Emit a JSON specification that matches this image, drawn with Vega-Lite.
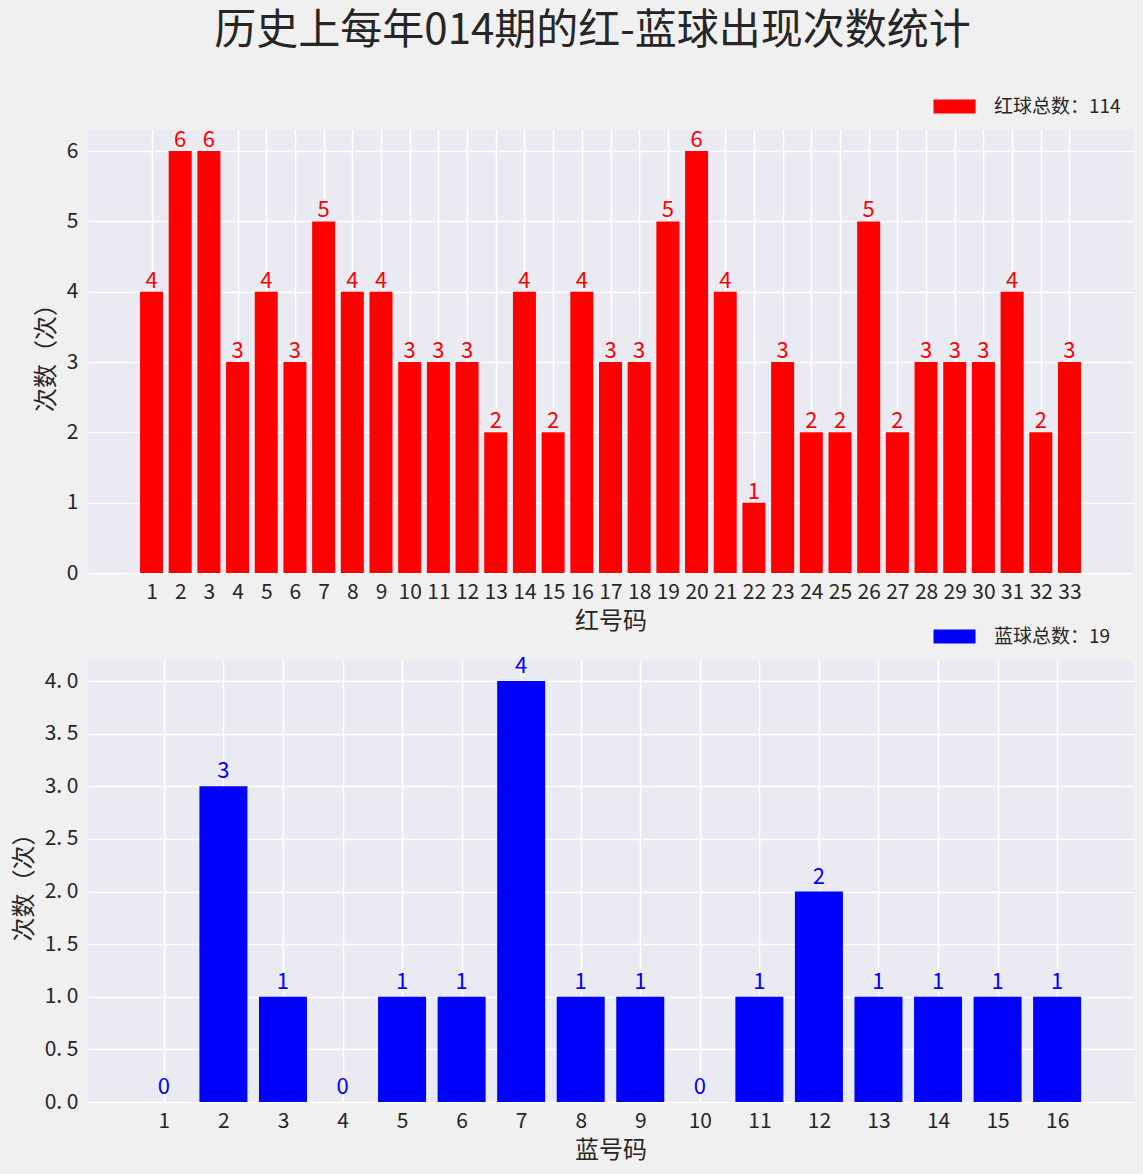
{
  "$schema": "https://vega.github.io/schema/vega-lite/v6.json",
  "background": "#f0f0f0",
  "padding": {"left": 12, "top": 10, "right": 10, "bottom": 17},
  "bounds": "flush",
  "spacing": 87,
  "title": {"text": "历史上每年014期的红-蓝球出现次数统计", "fontSize": 42, "font": "Noto Sans CJK SC", "fontWeight": "normal", "color": "#262626", "anchor": "middle", "offset": 44, "dx": 20},
  "config": {
    "font": "Noto Sans CJK SC",
    "view": {"fill": "#eaeaf2", "stroke": null},
    "axis": {"domain": false, "ticks": false, "gridColor": "#ffffff", "gridWidth": 1.5, "labelFontSize": 21, "labelColor": "#262626", "titleFontSize": 24, "titleFontWeight": "normal", "titleColor": "#262626", "labelFont": "Noto Sans CJK SC", "titleFont": "Noto Sans CJK SC", "labelOverlap": false, "labelBound": false, "labelFlush": false},
    "axisX": {"labelPadding": 8, "titlePadding": 7},
    "axisY": {"labelPadding": 10, "titlePadding": 8},
    "legend": {"orient": "none", "symbolType": "M-3,-1H3V1H-3Z", "symbolSize": 196, "symbolStrokeWidth": 0, "symbolOpacity": 1, "labelFontSize": 19, "labelColor": "#262626", "labelFont": "Noto Sans CJK SC", "labelOffset": 30, "padding": 0, "title": null}
  },
  "resolve": {"scale": {"color": "independent"}, "legend": {"color": "independent"}},
  "vconcat": [
    {
      "width": 1045,
      "height": 443,
      "data": {"values": [
        {"num": 1, "count": 4}, {"num": 2, "count": 6}, {"num": 3, "count": 6}, {"num": 4, "count": 3},
        {"num": 5, "count": 4}, {"num": 6, "count": 3}, {"num": 7, "count": 5}, {"num": 8, "count": 4},
        {"num": 9, "count": 4}, {"num": 10, "count": 3}, {"num": 11, "count": 3}, {"num": 12, "count": 3},
        {"num": 13, "count": 2}, {"num": 14, "count": 4}, {"num": 15, "count": 2}, {"num": 16, "count": 4},
        {"num": 17, "count": 3}, {"num": 18, "count": 3}, {"num": 19, "count": 5}, {"num": 20, "count": 6},
        {"num": 21, "count": 4}, {"num": 22, "count": 1}, {"num": 23, "count": 3}, {"num": 24, "count": 2},
        {"num": 25, "count": 2}, {"num": 26, "count": 5}, {"num": 27, "count": 2}, {"num": 28, "count": 3},
        {"num": 29, "count": 3}, {"num": 30, "count": 3}, {"num": 31, "count": 4}, {"num": 32, "count": 2},
        {"num": 33, "count": 3}
      ]},
      "encoding": {
        "x": {"field": "num", "type": "quantitative", "scale": {"domain": [-1.04, 35.04], "nice": false, "zero": false},
              "axis": {"values": [1,2,3,4,5,6,7,8,9,10,11,12,13,14,15,16,17,18,19,20,21,22,23,24,25,26,27,28,29,30,31,32,33], "title": "红号码"}},
        "y": {"field": "count", "type": "quantitative", "scale": {"domain": [0, 6.3], "nice": false},
              "axis": {"values": [0,1,2,3,4,5,6], "title": "次数（次）"}}
      },
      "layer": [
        {"mark": {"type": "bar", "size": 23, "orient": "vertical"},
         "encoding": {"color": {"datum": "红球总数：114", "type": "nominal", "scale": {"range": ["#ff0000"]},
                                "legend": {"legendX": 857, "legendY": -33}}}},
        {"mark": {"type": "text", "baseline": "alphabetic", "dy": -4, "fontSize": 22, "color": "#ff0000"},
         "encoding": {"text": {"field": "count", "type": "quantitative"}}}
      ]
    },
    {
      "width": 1045,
      "height": 442,
      "data": {"values": [
        {"num": 1, "count": 0}, {"num": 2, "count": 3}, {"num": 3, "count": 1}, {"num": 4, "count": 0},
        {"num": 5, "count": 1}, {"num": 6, "count": 1}, {"num": 7, "count": 4}, {"num": 8, "count": 1},
        {"num": 9, "count": 1}, {"num": 10, "count": 0}, {"num": 11, "count": 1}, {"num": 12, "count": 2},
        {"num": 13, "count": 1}, {"num": 14, "count": 1}, {"num": 15, "count": 1}, {"num": 16, "count": 1}
      ]},
      "encoding": {
        "x": {"field": "num", "type": "quantitative", "scale": {"domain": [-0.19, 17.19], "nice": false, "zero": false},
              "axis": {"values": [1,2,3,4,5,6,7,8,9,10,11,12,13,14,15,16], "title": "蓝号码"}},
        "y": {"field": "count", "type": "quantitative", "scale": {"domain": [0, 4.2], "nice": false},
              "axis": {"values": [0,0.5,1,1.5,2,2.5,3,3.5,4], "title": "次数（次）", "labelExpr": "replace(format(datum.value, '.1f'), '.', '. ')"}}
      },
      "layer": [
        {"mark": {"type": "bar", "size": 48, "orient": "vertical"},
         "encoding": {"color": {"datum": "蓝球总数：19", "type": "nominal", "scale": {"range": ["#0000ff"]},
                                "legend": {"legendX": 857, "legendY": -33}}}},
        {"mark": {"type": "text", "baseline": "alphabetic", "dy": -8, "fontSize": 22, "color": "#0000ff"},
         "encoding": {"text": {"field": "count", "type": "quantitative"}}}
      ]
    }
  ]
}
